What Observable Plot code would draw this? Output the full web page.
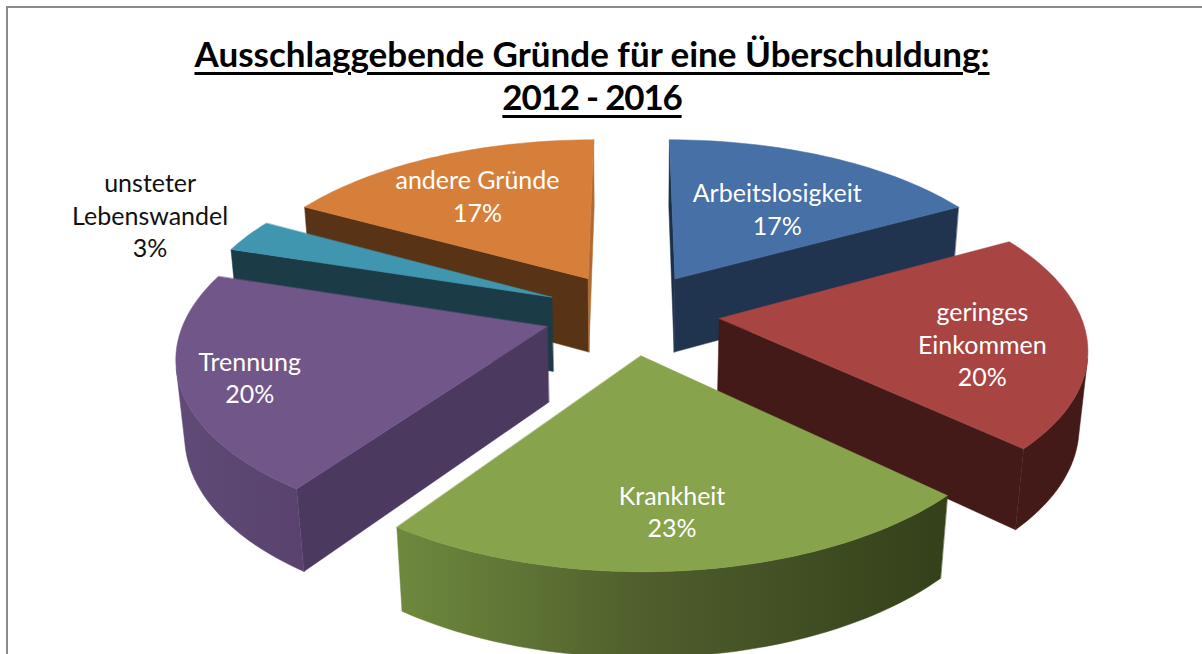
<!DOCTYPE html>
<html lang="de">
<head>
<meta charset="utf-8">
<script src="https://cdn.jsdelivr.net/npm/d3@7"></script>
<script src="https://cdn.jsdelivr.net/npm/@observablehq/plot@0.6"></script>
<style>
html,body{margin:0;padding:0;background:#fff;overflow:hidden;width:1202px;height:654px}
#frame{position:absolute;left:6px;top:6px;width:1300px;height:800px;border:2px solid #8a8a8a;box-sizing:border-box}
#title{position:absolute;left:0;top:32px;width:1184px;text-align:center;font:bold 35px/43px Lato,sans-serif;color:#000;text-decoration:underline;text-underline-offset:5px;text-decoration-thickness:3px}
#title span{letter-spacing:-1.2px}
#chart{position:absolute;left:0;top:125px}
svg{display:block}
</style>
</head>
<body>
<div id="frame"></div>
<div id="title">Ausschlaggebende Gründe für eine Überschuldung:<br><span>2012 - 2016</span></div>
<div id="chart"></div>
<script>
// Chart values (shares; the labels show them rounded)
const categories = ["Arbeitslosigkeit", "geringes\nEinkommen", "Krankheit", "Trennung", "unsteter\nLebenswandel", "andere Gründe"];
const shares = [17, 20, 22.7, 20.2, 3.1, 17];
const topColors = ["#4670a6", "#a84442", "#87a34c", "#71568a", "#3f96ae", "#d67f3b"];
const startCutColors = ["#1c3049", "#441a18", "#34401a", "#4b3960", "#1b3b47", "#583316"];
const endCutColors = ["#20344f", "#441a18", "#6b853c", "#5d4773", "#1b4a55", "#b06a30"];
const wallLeft = ["#20344f", "#441a18", "#6e893e", "#604b78", "#1b4a55", "#583316"];
const wallMid = ["#20344f", "#441a18", "#4f5e2c", "#5c4672", "#1b4a55", "#583316"];
const wallRight = ["#20344f", "#441a18", "#33401a", "#59436e", "#1b4a55", "#583316"];
const labelColors = ["#fff", "#fff", "#fff", "#fff", "#111", "#fff"];
const labelRadius = [0.801, 0.964, 1.007, 1.066, 1.587, 0.898];
const labelTurn = [3.1, 4, 0.5, -1.5, -0.1, -1.4];
const paintOrder = [5, 0, 4, 3, 1, 2];

// Camera of the 3D pie
const CX = 631, CY = 312.7, F = 2124, D = 5.89, TILT = 28 * Math.PI / 180, EXPLODE = 0.244, H = 0.24;
const rad = d => d * Math.PI / 180;
function project(x, y, z) {
  const dist = D + y * Math.cos(TILT) - z * Math.sin(TILT);
  return [CX + F * x / dist, CY - F * (y * Math.sin(TILT) + z * Math.cos(TILT)) / dist];
}
const total = d3.sum(shares);
let acc = 0;
const slices = shares.map((v, i) => {
  const a0 = acc / total * 360; acc += v; const a1 = acc / total * 360;
  return {i, a0, a1, mid: (a0 + a1) / 2};
});
function area(p) {
  let s = 0;
  p.forEach((q, k) => { const r = p[(k + 1) % p.length]; s += q[0] * r[1] - r[0] * q[1]; });
  return s;
}
const rows = [];
let id = 0;
function face(poly, fill) {
  id++;
  for (const [x, y] of poly) rows.push({x, y, id, fill});
}
for (const k of paintOrder) {
  const s = slices[k];
  const ox = EXPLODE * Math.sin(rad(s.mid)), oy = EXPLODE * Math.cos(rad(s.mid));
  const pt = (a, r, z) => project(ox + r * Math.sin(rad(a)), oy + r * Math.cos(rad(a)), z);
  const n = Math.max(2, Math.ceil((s.a1 - s.a0) / 1.5));
  const angles = d3.range(n + 1).map(j => s.a0 + (s.a1 - s.a0) * j / n);
  const startCut = [pt(0, 0, 0), pt(s.a0, 1, 0), pt(s.a0, 1, -H), pt(0, 0, -H)];
  const endCut = [pt(s.a1, 1, 0), pt(0, 0, 0), pt(0, 0, -H), pt(s.a1, 1, -H)];
  if (area(startCut) < 0) face(startCut, startCutColors[k]);
  if (area(endCut) < 0) face(endCut, endCutColors[k]);
  // outer wall: only the part of the arc that faces the viewer, filled with a gradient
  const seen = [];
  for (let j = 0; j < n; j++) {
    const q = [pt(angles[j], 1, 0), pt(angles[j + 1], 1, 0), pt(angles[j + 1], 1, -H), pt(angles[j], 1, -H)];
    if (area(q) < 0) { if (!seen.length) seen.push(angles[j]); seen.push(angles[j + 1]); }
  }
  if (seen.length) face([...seen.map(a => pt(a, 1, 0)), ...seen.slice().reverse().map(a => pt(a, 1, -H))], `url(#wall${k})`);
  face([pt(0, 0, 0), ...angles.map(a => pt(a, 1, 0))], topColors[k]);
}
const labelRows = slices.map(s => {
  const a = s.mid + labelTurn[s.i];
  const [x, y] = project(labelRadius[s.i] * Math.sin(rad(a)), labelRadius[s.i] * Math.cos(rad(a)), 0);
  return {x, y, text: `${categories[s.i]}\n${Math.round(shares[s.i])}%`, color: labelColors[s.i]};
});

// Gradients referenced by the wall faces
function wallGradients() {
  const defs = d3.create("svg:defs");
  shares.forEach((_, k) => {
    const g = defs.append("linearGradient").attr("id", `wall${k}`);
    [[0, wallLeft[k]], [0.45, wallMid[k]], [1, wallRight[k]]].forEach(([o, c]) =>
      g.append("stop").attr("offset", o).attr("stop-color", c));
  });
  return defs.node();
}

const chart = Plot.plot({
  width: 1202, height: 529, margin: 0,
  x: {domain: [0, 1202], range: [0, 1202], axis: null},
  y: {domain: [125, 654], range: [0, 529], axis: null},
  color: {type: "identity"},
  style: {background: "transparent"},
  marks: [
    wallGradients,
    Plot.line(rows, {x: "x", y: "y", z: "id", fill: "fill", stroke: "fill", strokeWidth: 0.5, curve: "linear-closed"}),
    Plot.text(labelRows, {x: "x", y: "y", dy: -2.5, text: "text", fill: "color", fontFamily: "Lato, sans-serif", fontSize: 25, lineHeight: 1.3})
  ]
});
document.getElementById("chart").appendChild(chart);
</script>
</body>
</html>
